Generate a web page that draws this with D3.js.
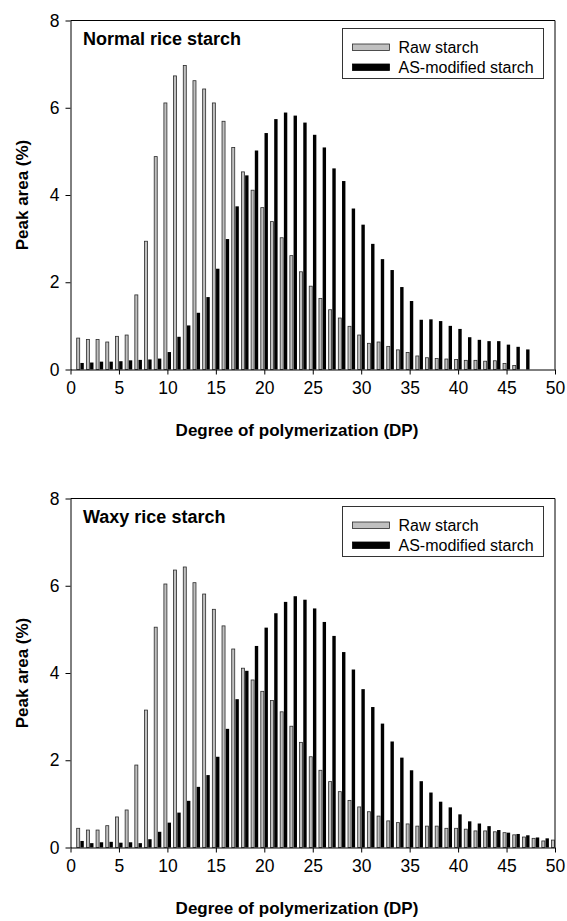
<!DOCTYPE html>
<html>
<head>
<meta charset="utf-8">
<script src="https://cdn.jsdelivr.net/npm/d3@7"></script>
<style>
  html, body { margin: 0; padding: 0; background: #fff; }
  svg { display: block; }
  text { font-family: "Liberation Sans", Arial, Helvetica, sans-serif; fill: #000; }
</style>
</head>
<body>
<svg id="chart" width="567" height="921"></svg>
<script>
// ---------------- data ----------------
const panelTitles = ["Normal rice starch", "Waxy rice starch"];
const seriesNames = ["Raw starch", "AS-modified starch"];
const xTicks = [0, 5, 10, 15, 20, 25, 30, 35, 40, 45, 50];
const yTicks = [0, 2, 4, 6, 8];
const xLabel = "Degree of polymerization (DP)";
const yLabel = "Peak area (%)";

// values start at DP 1
const normalRaw = [0.72,0.69,0.69,0.63,0.76,0.79,1.71,2.94,4.88,6.11,
                   6.73,6.97,6.62,6.43,6.11,5.69,5.09,4.53,4.11,3.71,
                   3.39,3.02,2.61,2.24,1.91,1.63,1.37,1.18,0.99,0.79,
                   0.60,0.63,0.53,0.45,0.39,0.31,0.27,0.25,0.24,0.23,
                   0.21,0.21,0.19,0.20,0.14,0.09];
const normalAS  = [0.15,0.16,0.18,0.18,0.19,0.21,0.22,0.23,0.25,0.40,
                   0.75,1.01,1.30,1.66,2.31,2.99,3.74,4.45,5.02,5.42,
                   5.74,5.89,5.82,5.66,5.38,5.09,4.61,4.32,3.69,3.32,
                   2.88,2.53,2.28,1.89,1.57,1.14,1.15,1.11,1.00,0.93,
                   0.74,0.68,0.65,0.65,0.57,0.52,0.46];
const waxyRaw   = [0.44,0.40,0.40,0.50,0.70,0.86,1.89,3.15,5.05,6.04,
                   6.36,6.43,6.07,5.81,5.46,5.08,4.55,4.11,3.84,3.58,
                   3.37,3.11,2.78,2.41,2.08,1.77,1.51,1.28,1.08,0.93,
                   0.82,0.72,0.61,0.57,0.54,0.49,0.49,0.49,0.44,0.44,
                   0.42,0.38,0.38,0.36,0.34,0.29,0.24,0.21,0.15,0.17];
const waxyAS    = [0.15,0.10,0.12,0.13,0.11,0.12,0.10,0.19,0.36,0.57,
                   0.80,1.07,1.39,1.66,2.08,2.72,3.40,4.05,4.62,5.04,
                   5.37,5.63,5.76,5.68,5.48,5.17,4.85,4.48,4.08,3.63,
                   3.22,2.84,2.43,2.06,1.77,1.52,1.26,1.05,0.92,0.76,
                   0.60,0.55,0.49,0.40,0.34,0.31,0.28,0.23,0.21];

// ---------------- layout ----------------
const svg = d3.select("#chart");
const plotLeft = 70.5, plotRight = 555, plotH = 349;
const panels = [
  { title: panelTitles[0], raw: normalRaw, as: normalAS, top: 20.5 },
  { title: panelTitles[1], raw: waxyRaw,   as: waxyAS,   top: 498.5 }
];
const rawFill = "#c0c0c0", rawStroke = "#2a2a2a", asFill = "#000";
const bw = 3.4;

panels.forEach(p => {
  const g = svg.append("g");
  const x = d3.scaleLinear().domain([0, 50]).range([plotLeft, plotRight]);
  const y = d3.scaleLinear().domain([0, 8]).range([p.top + plotH, p.top]);

  // bars: raw (left of DP), AS-modified (right of DP)
  g.append("g").selectAll("rect")
    .data(p.raw.map((v, i) => ({ dp: i + 1, v })))
    .join("rect")
    .attr("x", d => x(d.dp) - bw - 0.1)
    .attr("width", bw - 0.4)
    .attr("y", d => y(d.v))
    .attr("height", d => y(0) - y(d.v))
    .attr("fill", rawFill)
    .attr("stroke", rawStroke)
    .attr("stroke-width", 0.8);

  g.append("g").selectAll("rect")
    .data(p.as.map((v, i) => ({ dp: i + 1, v })))
    .join("rect")
    .attr("x", d => x(d.dp) + 0.2)
    .attr("width", bw)
    .attr("y", d => y(d.v))
    .attr("height", d => y(0) - y(d.v))
    .attr("fill", asFill);

  // axes
  const yAxis = g.append("g")
    .attr("transform", `translate(${plotLeft},0)`)
    .call(d3.axisLeft(y).tickValues(yTicks).tickSize(5).tickSizeOuter(0).tickPadding(6));
  const xAxis = g.append("g")
    .attr("transform", `translate(0,${p.top + plotH})`)
    .call(d3.axisBottom(x).tickValues(xTicks).tickSize(5).tickSizeOuter(0).tickPadding(5));
  [yAxis, xAxis].forEach(a => {
    a.select(".domain").attr("stroke", "#000").attr("stroke-width", 1);
    a.selectAll(".tick line").attr("stroke", "#000");
    a.selectAll("text").attr("font-size", 17.5)
      .attr("font-family", "'Liberation Sans', Arial, sans-serif").attr("fill", "#000");
  });
  xAxis.selectAll("text").attr("dy", "0.85em");

  // frame top & right
  g.append("path")
    .attr("d", `M${plotLeft},${p.top}H${plotRight}V${p.top + plotH}`)
    .attr("fill", "none").attr("stroke", "#000").attr("stroke-width", 1);

  // panel title
  g.append("text")
    .attr("x", 83).attr("y", p.top + 24)
    .attr("font-size", 18).attr("font-weight", "bold")
    .text(p.title);

  // legend
  const lg = g.append("g").attr("transform", `translate(342.5,${p.top + 8})`);
  lg.append("rect").attr("x", 0).attr("y", 0).attr("width", 201).attr("height", 50)
    .attr("fill", "#fff").attr("stroke", "#333").attr("stroke-width", 1);
  const legItems = [
    { name: seriesNames[0], fill: rawFill, stroke: rawStroke },
    { name: seriesNames[1], fill: asFill, stroke: asFill }
  ];
  legItems.forEach((it, i) => {
    lg.append("rect").attr("x", 10).attr("y", 15.5 + i * 20).attr("width", 37).attr("height", 6.5)
      .attr("fill", it.fill).attr("stroke", it.stroke).attr("stroke-width", 0.8);
    lg.append("text").attr("x", 56).attr("y", 24 + i * 20)
      .attr("font-size", 16).text(it.name);
  });

  // axis titles
  g.append("text")
    .attr("x", 297).attr("y", p.top + plotH + 66)
    .attr("text-anchor", "middle").attr("font-size", 17).attr("font-weight", "bold")
    .text(xLabel);
  g.append("text")
    .attr("transform", `translate(28,${p.top + plotH / 2}) rotate(-90)`)
    .attr("text-anchor", "middle").attr("font-size", 17).attr("font-weight", "bold")
    .text(yLabel);
});
</script>
</body>
</html>
